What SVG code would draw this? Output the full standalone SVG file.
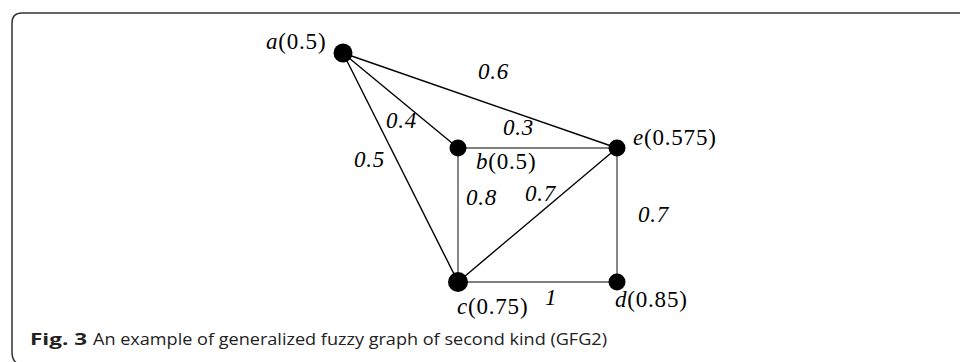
<svg xmlns="http://www.w3.org/2000/svg" width="960" height="362" viewBox="0 0 960 362">
<style>
.frame{fill:none;stroke:#333;stroke-width:1.5}
.edge{stroke:#000;stroke-width:1.4;fill:none}
.edge.g{stroke:#555}
.node{fill:#000}
text.lbl{font-family:"Liberation Serif","DejaVu Serif",serif;font-size:23px;fill:#000;letter-spacing:0.8px}
text.it,tspan.it{font-style:italic}
.cap{font-family:"Open Sans","Liberation Sans",sans-serif;font-size:16px;fill:#222}
.capb{font-weight:bold}
</style>
<rect x="0" y="0" width="960" height="362" fill="#fff"/>
<path class="frame" d="M960 13 H22 Q12 13 12 23 V352 Q12 361 18 364"/>
<g id="connectors">
<line class="edge" x1="343" y1="53" x2="617" y2="148"/>
<line class="edge" x1="343" y1="53" x2="458" y2="148"/>
<line class="edge" x1="343" y1="53" x2="458" y2="282"/>
<line class="edge g" x1="458" y1="148" x2="617" y2="148"/>
<line class="edge g" x1="458" y1="148" x2="458" y2="282"/>
<line class="edge" x1="458" y1="282" x2="617" y2="148"/>
<line class="edge g" x1="458" y1="282" x2="617" y2="282"/>
<line class="edge g" x1="617" y1="148" x2="617" y2="282"/>
</g>
<g id="edge-labels">
<text class="lbl it" x="478" y="79">0.6</text>
<text class="lbl it" x="386" y="128">0.4</text>
<text class="lbl it" x="354" y="167">0.5</text>
<text class="lbl it" x="503" y="135">0.3</text>
<text class="lbl it" x="466" y="205">0.8</text>
<text class="lbl it" x="525" y="201">0.7</text>
<text class="lbl it" x="638" y="222">0.7</text>
<text class="lbl it" x="545" y="305">1</text>
</g>
<g id="node-a">
<circle class="node" cx="343" cy="53" r="9.5"/>
<text class="lbl" x="266" y="49"><tspan class="it">a</tspan>(0.5)</text>
</g>
<g id="node-b">
<circle class="node" cx="458" cy="148" r="8.5"/>
<text class="lbl" x="476" y="169"><tspan class="it">b</tspan>(0.5)</text>
</g>
<g id="node-e">
<circle class="node" cx="617" cy="148" r="8.5"/>
<text class="lbl" x="633" y="145"><tspan class="it">e</tspan>(0.575)</text>
</g>
<g id="node-c">
<circle class="node" cx="458" cy="282" r="10"/>
<text class="lbl" x="457" y="314"><tspan class="it">c</tspan>(0.75)</text>
</g>
<g id="node-d">
<circle class="node" cx="617" cy="282" r="8.5"/>
<text class="lbl" x="615" y="307"><tspan class="it">d</tspan>(0.85)</text>
</g>
<g id="caption">
<text class="cap capb" x="30" y="345" textLength="57" lengthAdjust="spacingAndGlyphs">Fig. 3</text>
<text class="cap" x="93" y="345" textLength="514" lengthAdjust="spacingAndGlyphs">An example of generalized fuzzy graph of second kind (GFG2)</text>
</g>
</svg>
